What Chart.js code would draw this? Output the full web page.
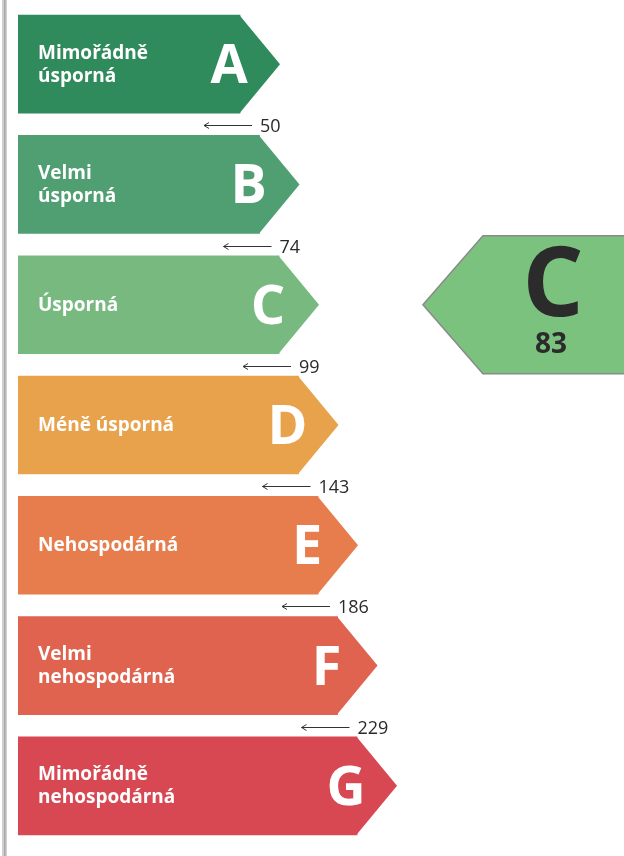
<!DOCTYPE html>
<html>
<head>
<meta charset="utf-8">
<script src="https://cdn.jsdelivr.net/npm/chart.js@4/dist/chart.umd.min.js"></script>
<style>
html,body{margin:0;padding:0;background:#fff;}
#wrap{position:relative;width:624px;height:856px;}
</style>
</head>
<body>
<div id="wrap"><canvas id="c" width="624" height="856"></canvas></div>
<script>
// ---- data ----
const classes = ['A','B','C','D','E','F','G'];
const classNames = [
  ['Mimořádně','úsporná'],
  ['Velmi','úsporná'],
  ['Úsporná'],
  ['Méně úsporná'],
  ['Nehospodárná'],
  ['Velmi','nehospodárná'],
  ['Mimořádně','nehospodárná']
];
const classRank = [1,2,3,4,5,6,7];
const thresholds = [50,74,99,143,186,229];
const ratingClass = 'C';
const ratingValue = 83;
const classColors = ['#2f8a5c','#4f9f72','#78b980','#e8a24c','#e77c4c','#e0634f','#d84853'];
const ratingColor = '#7cc27f';

const X_MIN = -10.385, X_MAX = 20.69;
const TIP = 40;

const energyPlugin = {
  id: 'energy',
  afterDatasetsDraw(chart) {
    const ctx = chart.ctx;
    const meta = chart.getDatasetMeta(0);
    const ys = chart.scales.y, xs = chart.scales.x;
    ctx.save();
    // left border line
    ctx.fillStyle = '#d0d0d0';
    ctx.fillRect(2, 0, 5, 856);
    ctx.fillStyle = '#a8a8a8';
    ctx.fillRect(4, 0, 1.5, 856);

    meta.data.forEach((bar, i) => {
      const h = bar.height, top = bar.y - h/2, bot = bar.y + h/2;
      // tip
      ctx.fillStyle = classColors[i];
      ctx.beginPath();
      ctx.moveTo(bar.x - 0.5, top);
      ctx.lineTo(bar.x + TIP, bar.y);
      ctx.lineTo(bar.x - 0.5, bot);
      ctx.closePath();
      ctx.fill();
      // name
      ctx.fillStyle = '#ffffff';
      ctx.font = 'bold 19px "Open Sans"';
      ctx.textAlign = 'left';
      ctx.textBaseline = 'alphabetic';
      const lines = classNames[i];
      const lh = 23;
      const y0 = bar.y + 6 - (lines.length - 1) * lh / 2;
      lines.forEach((t, k) => ctx.fillText(t, bar.base + 20, y0 + k * lh));
      // letter
      ctx.font = 'bold 54px "Open Sans"';
      ctx.textAlign = 'center';
      ctx.fillText(classes[i], bar.x - 11, bar.y + 19);
    });

    // thresholds
    ctx.strokeStyle = '#333';
    ctx.fillStyle = '#2a2a2a';
    ctx.lineWidth = 1;
    thresholds.forEach((v, i) => {
      const upper = meta.data[i], lower = meta.data[i+1];
      const y = Math.round((upper.y + lower.y) / 2 + 1) + 0.5;
      const x1 = upper.x + 12, x0 = upper.x - 36;
      ctx.beginPath();
      ctx.moveTo(x0, y); ctx.lineTo(x1, y);
      ctx.moveTo(x0 + 5, y - 3); ctx.lineTo(x0, y); ctx.lineTo(x0 + 5, y + 3);
      ctx.stroke();
      ctx.font = '18px "Open Sans"';
      ctx.textAlign = 'left';
      ctx.textBaseline = 'middle';
      ctx.fillText(String(v), x1 + 8, y + 1);
    });

    // rating indicator
    const ri = classes.indexOf(ratingClass);
    const cy = ys.getPixelForValue(ri);
    const hh = 69;
    const tipX = xs.getPixelForValue(10.38);
    const rx = tipX + 60;
    ctx.fillStyle = ratingColor;
    ctx.strokeStyle = '#8a8a8a';
    ctx.lineWidth = 1.5;
    ctx.beginPath();
    ctx.moveTo(tipX, cy);
    ctx.lineTo(rx, cy - hh);
    ctx.lineTo(640, cy - hh);
    ctx.lineTo(640, cy + hh);
    ctx.lineTo(rx, cy + hh);
    ctx.closePath();
    ctx.fill();
    ctx.stroke();
    ctx.fillStyle = '#2b2b2b';
    ctx.textAlign = 'center';
    ctx.textBaseline = 'alphabetic';
    ctx.font = 'bold 96px "Open Sans"';
    ctx.fillText(ratingClass, 553, cy + 11);
    ctx.font = 'bold 28px "Open Sans"';
    ctx.fillText(String(ratingValue), 551, cy + 48);
    ctx.restore();
  }
};

new Chart(document.getElementById('c'), {
  type: 'bar',
  data: {
    labels: classes,
    datasets: [{
      data: classRank,
      base: X_MIN,
      backgroundColor: classColors,
      borderWidth: 0,
      barThickness: 98
    }]
  },
  options: {
    indexAxis: 'y',
    responsive: false,
    animation: false,
    events: [],
    layout: { padding: { left: 18, right: 0, top: 4, bottom: 10 } },
    plugins: { legend: { display: false }, tooltip: { enabled: false } },
    scales: {
      x: { type: 'linear', min: X_MIN, max: X_MAX, display: false },
      y: { type: 'category', display: false, offset: true }
    }
  },
  plugins: [energyPlugin]
});
</script>
</body>
</html>
